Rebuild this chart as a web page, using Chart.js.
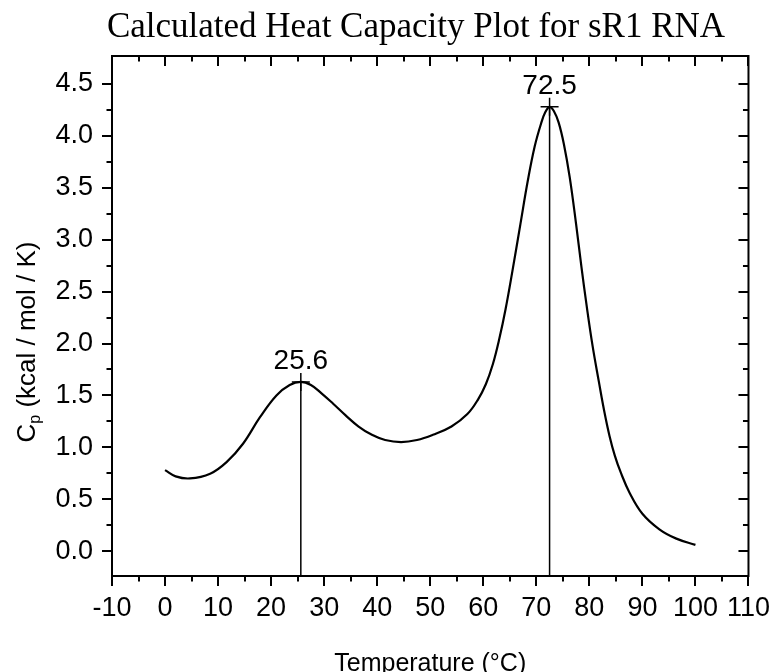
<!DOCTYPE html>
<html><head><meta charset="utf-8">
<script src="https://cdn.jsdelivr.net/npm/chart.js@4.4.1/dist/chart.umd.min.js"></script>
<style>html,body{margin:0;padding:0;background:#fff}</style>
</head><body>
<canvas id="c" width="776" height="672"></canvas>
<script>
const TITLE = 'Calculated Heat Capacity Plot for sR1 RNA';
const X_TITLE = 'Temperature (°C)';
const Y_TITLE_MAIN = 'C';
const Y_TITLE_SUB = 'p';
const Y_TITLE_REST = ' (kcal / mol / K)';

const temperature = [0, 2, 4.7, 8.5, 11.6, 14.7, 17.9, 21.0, 23.5, 25.6, 27.5, 29.5, 31.7, 34.0, 36.5, 39.0, 41.5, 44.5,
  47.5, 50.5, 54.0, 57.0, 59.0, 60.5, 61.8, 63.0, 64.2, 65.5, 67.0, 68.4, 69.7, 70.9, 71.7, 72.5, 73.3, 74.2, 75.2, 76.3,
  77.5, 78.5, 79.5, 80.6, 81.8, 82.8, 83.8, 84.8, 85.9, 87.6, 90.0, 93.2, 96.4, 100];
const heatCapacity = [0.78, 0.72, 0.70, 0.745, 0.857, 1.034, 1.29, 1.50, 1.60, 1.63, 1.60, 1.52, 1.42, 1.31, 1.20, 1.12, 1.07, 1.05,
  1.07, 1.12, 1.20, 1.32, 1.46, 1.61, 1.80, 2.04, 2.33, 2.70, 3.15, 3.57, 3.90, 4.12, 4.23, 4.28, 4.24, 4.13, 3.92, 3.60,
  3.15, 2.74, 2.36, 1.98, 1.63, 1.35, 1.11, 0.92, 0.76, 0.56, 0.36, 0.21, 0.12, 0.06];

const peakTemps = [25.6, 72.5];
const peakValues = [1.63, 4.28];
const peakLabels = ['25.6', '72.5'];

const xTicks = [-10, 0, 10, 20, 30, 40, 50, 60, 70, 80, 90, 100, 110];
const xMinorTicks = [-5, 5, 15, 25, 35, 45, 55, 65, 75, 85, 95, 105];
const yTicks = [0, 0.5, 1.0, 1.5, 2.0, 2.5, 3.0, 3.5, 4.0, 4.5];
const yMinorTicks = [0.25, 0.75, 1.25, 1.75, 2.25, 2.75, 3.25, 3.75, 4.25];

const X_MIN = -10, X_MAX = 110, Y_MIN = -0.24, Y_MAX = 4.77;

const curve = temperature.map((t, i) => ({x: t, y: heatCapacity[i]}));
const peakPoints = peakTemps.map((t, i) => ({x: t, y: peakValues[i]}));
const dropLines = peakTemps.map((t, i) => ({
  type: 'line',
  data: [{x: t, y: Y_MIN}, {x: t, y: peakValues[i]}],
  borderColor: '#000', borderWidth: 1.5, pointRadius: 0, fill: false, tension: 0
}));

const MAJOR = 10, MINOR = 5.5;

const decor = {
  id: 'decor',
  afterDraw(chart) {
    const ctx = chart.ctx;
    const xs = chart.scales.x, ys = chart.scales.y;
    const a = chart.chartArea;
    ctx.save();
    ctx.strokeStyle = '#000';
    ctx.lineWidth = 2;
    ctx.beginPath();
    ctx.moveTo(a.left - 1, a.top); ctx.lineTo(a.right + 1, a.top);
    ctx.moveTo(a.right, a.top); ctx.lineTo(a.right, a.bottom + 1);
    ctx.stroke();
    ctx.beginPath();
    xTicks.forEach(v => { const p = Math.round(xs.getPixelForValue(v)); ctx.moveTo(p, a.top); ctx.lineTo(p, a.top + MAJOR); });
    xMinorTicks.forEach(v => { const p = Math.round(xs.getPixelForValue(v));
      ctx.moveTo(p, a.top); ctx.lineTo(p, a.top + MINOR);
      ctx.moveTo(p, a.bottom); ctx.lineTo(p, a.bottom + MINOR); });
    yTicks.forEach(v => { const p = Math.round(ys.getPixelForValue(v)); ctx.moveTo(a.right, p); ctx.lineTo(a.right - MAJOR, p); });
    yMinorTicks.forEach(v => { const p = Math.round(ys.getPixelForValue(v));
      ctx.moveTo(a.right, p); ctx.lineTo(a.right - MINOR, p);
      ctx.moveTo(a.left, p); ctx.lineTo(a.left - MINOR, p); });
    ctx.stroke();

    ctx.fillStyle = '#000';
    ctx.font = '28px "Liberation Sans", Arial, sans-serif';
    ctx.textAlign = 'center';
    ctx.textBaseline = 'alphabetic';
    peakTemps.forEach((t, i) => {
      ctx.fillText(peakLabels[i], xs.getPixelForValue(t), ys.getPixelForValue(peakValues[i]) - 13);
    });

    ctx.font = '35px "Liberation Serif", "Times New Roman", serif';
    ctx.fillText(TITLE, 416, 37);

    ctx.translate(28, 342);
    ctx.rotate(-Math.PI / 2);
    ctx.textAlign = 'left';
    ctx.textBaseline = 'middle';
    const big = '26px "Liberation Sans", Arial, sans-serif';
    const small = '16px "Liberation Sans", Arial, sans-serif';
    ctx.font = big; const wC = ctx.measureText(Y_TITLE_MAIN).width; const wR = ctx.measureText(Y_TITLE_REST).width;
    ctx.font = small; const wp = ctx.measureText(Y_TITLE_SUB).width;
    let x0 = -(wC + wp + wR) / 2;
    ctx.font = big; ctx.fillText(Y_TITLE_MAIN, x0, 0);
    ctx.font = small; ctx.fillText(Y_TITLE_SUB, x0 + wC, 8);
    ctx.font = big; ctx.fillText(Y_TITLE_REST, x0 + wC + wp, 0);
    ctx.restore();
  }
};

new Chart(document.getElementById('c'), {
  type: 'line',
  data: {
    datasets: [
      {data: curve, borderColor: '#000', borderWidth: 2.2, pointRadius: 0, fill: false, tension: 0.4},
      ...dropLines,
      {data: peakPoints, showLine: false, pointStyle: 'cross', pointRadius: 9, pointBorderWidth: 1.5,
       pointBorderColor: '#000', pointBackgroundColor: '#000'}
    ]
  },
  options: {
    responsive: false,
    animation: false,
    devicePixelRatio: 1,
    layout: {padding: {top: 56, right: 27, left: 0, bottom: 0}},
    plugins: {legend: {display: false}, tooltip: {enabled: false}, title: {display: false}},
    scales: {
      x: {
        type: 'linear', min: X_MIN, max: X_MAX,
        afterFit(s) { s.height = 96; },
        afterBuildTicks(s) { s.ticks = xTicks.map(v => ({value: v})); },
        grid: {display: true, drawOnChartArea: false, drawTicks: true, tickLength: MAJOR, color: '#000', lineWidth: 2},
        border: {display: true, color: '#000', width: 2},
        ticks: {autoSkip: false, maxRotation: 0, padding: 6, color: '#000',
          font: {family: '"Liberation Sans", Arial, sans-serif', size: 27},
          callback: v => String(v)},
        title: {display: true, text: X_TITLE, color: '#000',
          font: {family: '"Liberation Sans", Arial, sans-serif', size: 25},
          padding: {top: 0, bottom: -7}}
      },
      y: {
        type: 'linear', min: Y_MIN, max: Y_MAX,
        afterFit(s) { s.width = 112; },
        afterBuildTicks(s) { s.ticks = yTicks.map(v => ({value: v})); },
        grid: {display: true, drawOnChartArea: false, drawTicks: true, tickLength: MAJOR, color: '#000', lineWidth: 2},
        border: {display: true, color: '#000', width: 2},
        ticks: {padding: 9, color: '#000',
          font: {family: '"Liberation Sans", Arial, sans-serif', size: 27},
          callback: v => Number(v).toFixed(1)}
      }
    }
  },
  plugins: [decor]
});
</script>
</body></html>
